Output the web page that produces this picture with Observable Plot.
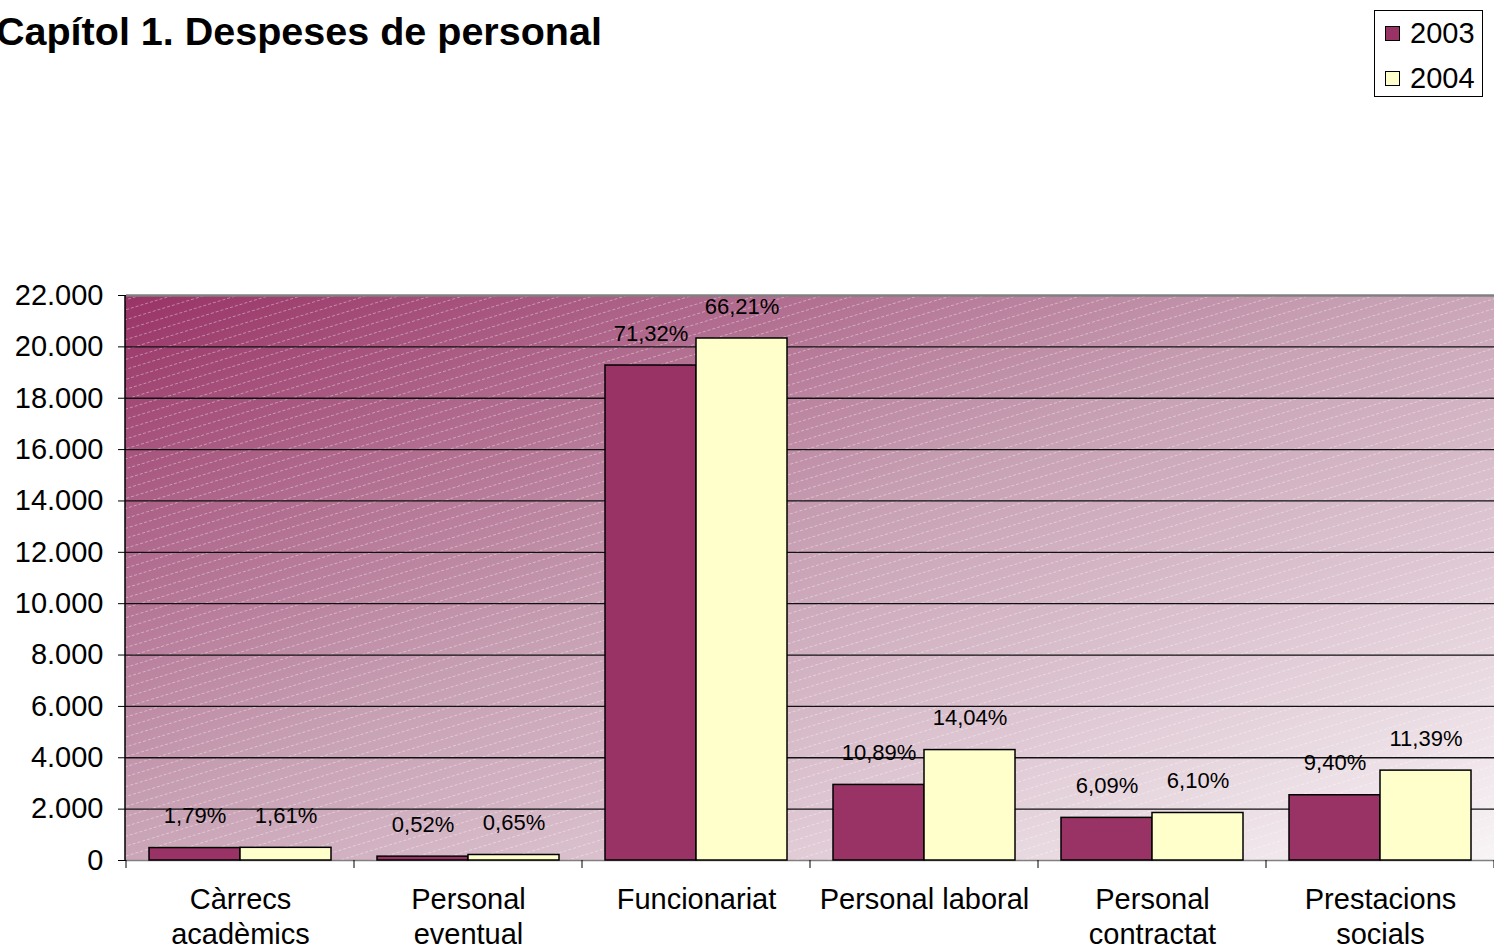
<!DOCTYPE html>
<html>
<head>
<meta charset="utf-8">
<script src="https://cdn.jsdelivr.net/npm/d3@7"></script>
<script src="https://cdn.jsdelivr.net/npm/@observablehq/plot@0.6"></script>
<style>
  html, body { margin: 0; padding: 0; background: #fff; overflow: hidden; }
  #wrap { position: relative; width: 1494px; height: 952px; font-family: "Liberation Sans", Arial, sans-serif; }
  #title { position: absolute; left: -4px; top: 12px; font-weight: bold; font-size: 39.5px; line-height: 39.5px; white-space: nowrap; color: #000; }
  #legend { position: absolute; left: 1374px; top: 10px; width: 107px; height: 85px; border: 1px solid #000; background: #fff; }
  .item { position: absolute; left: 10px; height: 30px; display: flex; align-items: center; font-size: 29px; color: #000; }
  .sw { width: 13px; height: 13px; border: 1.5px solid #000; margin-right: 10px; }
  #chart { position: absolute; left: 0; top: 0; }
</style>
</head>
<body>
<div id="wrap">
  <div id="chart"></div>
  <div id="title">Capítol 1. Despeses de personal</div>
  <div id="legend"></div>
</div>
<script>
const categories = ["Càrrecs\nacadèmics", "Personal\neventual", "Funcionariat", "Personal laboral", "Personal\ncontractat", "Prestacions\nsocials"];
const years = ["2003", "2004"];
const values2003 = [484, 150, 19274, 2943, 1660, 2540];
const values2004 = [494, 215, 20326, 4300, 1850, 3500];
const pct2003 = ["1,79%", "0,52%", "71,32%", "10,89%", "6,09%", "9,40%"];
const pct2004 = ["1,61%", "0,65%", "66,21%", "14,04%", "6,10%", "11,39%"];
const yTicks = [0, 2000, 4000, 6000, 8000, 10000, 12000, 14000, 16000, 18000, 20000, 22000];
const yColors = ["#993366", "#FFFFCC"];

const W = 1494, H = 952, ML = 125, MR = 0, MT = 295, MB = 92;

const data = [];
categories.forEach((c, i) => {
  data.push({category: c, year: years[0], value: values2003[i], pct: pct2003[i]});
  data.push({category: c, year: years[1], value: values2004[i], pct: pct2004[i]});
});

const fmt = d3.formatLocale({decimal: ",", thousands: ".", grouping: [3], currency: ["", "€"]}).format(",.0f");

const chart = Plot.plot({
  width: W, height: H,
  marginLeft: ML, marginRight: MR, marginTop: MT, marginBottom: MB,
  style: {fontFamily: "'Liberation Sans', Arial, sans-serif", fontSize: "29px", color: "#000", background: "transparent", overflow: "visible"},
  fx: {domain: categories, padding: 0, label: null},
  x: {domain: years, paddingInner: 0, paddingOuter: 0.24, axis: null},
  y: {domain: [0, 22000], ticks: yTicks, tickFormat: fmt, tickSize: 8, tickPadding: 15, label: null},
  color: {domain: years, range: yColors},
  marks: [
    Plot.ruleY(yTicks.filter(v => v > 0 && v < 22000), {stroke: "#111", strokeWidth: 1.3}),
    Plot.ruleY([22000], {stroke: "#808080", strokeWidth: 2.5}),
    Plot.ruleY([0], {stroke: "#808080", strokeWidth: 1.5}),
    Plot.barY(data, {fx: "category", x: "year", y: "value", fill: "year", stroke: "#000", strokeWidth: 1.5}),
    Plot.text(data, {fx: "category", x: "year", y: "value", text: "pct", dy: -32, fontSize: 22, fill: "#000"}),
    Plot.axisFx({anchor: "bottom", tickSize: 0, tickPadding: 23, lineHeight: 1.22, fontSize: 29, label: null})
  ]
});

const svg = d3.select(chart);
const fxs = chart.scale("fx");
const ys = chart.scale("y");
const xr = fxs.range;
const yr = ys.range;
const pLeft = Math.min(xr[0], xr[1]), pRight = Math.max(xr[0], xr[1]);
const pTop = Math.min(yr[0], yr[1]), pBottom = Math.max(yr[0], yr[1]);

// gradient (corner to corner, stretched over the plot area) and hatch
const defs = svg.insert("defs", ":first-child");
const grad = defs.append("linearGradient").attr("id", "bgGrad")
  .attr("x1", 0).attr("y1", 0).attr("x2", 1).attr("y2", 1);
grad.append("stop").attr("offset", 0).attr("stop-color", "#993366");
grad.append("stop").attr("offset", 0.45).attr("stop-color", "#c69eb2");
grad.append("stop").attr("offset", 1).attr("stop-color", "#f8f4f6");
const pat = defs.append("pattern").attr("id", "hatch")
  .attr("patternUnits", "userSpaceOnUse").attr("width", 10).attr("height", 9.5)
  .attr("patternTransform", "rotate(-17)");
pat.append("line").attr("x1", 0).attr("y1", 0.5).attr("x2", 10).attr("y2", 0.5)
  .attr("stroke", "#fff").attr("stroke-opacity", 0.38).attr("stroke-width", 1)
  .attr("stroke-dasharray", "3,2");

// background behind all marks
const bgNode = document.createElementNS("http://www.w3.org/2000/svg", "g");
chart.insertBefore(bgNode, defs.node().nextSibling);
const bgG = d3.select(bgNode);
bgG.append("rect").attr("x", pLeft).attr("y", pTop).attr("width", pRight - pLeft).attr("height", pBottom - pTop).attr("fill", "url(#bgGrad)");
bgG.append("rect").attr("x", pLeft).attr("y", pTop).attr("width", pRight - pLeft).attr("height", pBottom - pTop).attr("fill", "url(#hatch)");

// y axis line
svg.append("line").attr("x1", pLeft).attr("x2", pLeft).attr("y1", pTop).attr("y2", pBottom)
  .attr("stroke", "#000").attr("stroke-width", 1.5);

// category boundary ticks below the baseline, from the fx scale
const y0 = ys.apply(0);
const bounds = categories.map(c => fxs.apply(c)).concat([fxs.apply(categories[categories.length - 1]) + fxs.bandwidth]);
svg.append("g").selectAll("line").data(bounds).join("line")
  .attr("x1", d => d).attr("x2", d => d)
  .attr("y1", y0).attr("y2", y0 + 8)
  .attr("stroke", "#000").attr("stroke-width", 1);

document.getElementById("chart").appendChild(chart);

// legend
const legend = document.getElementById("legend");
years.forEach((yv, i) => {
  const it = document.createElement("div");
  it.className = "item";
  it.style.top = (i === 0 ? 7 : 52) + "px";
  const sw = document.createElement("div");
  sw.className = "sw";
  sw.style.background = yColors[i];
  it.appendChild(sw);
  it.appendChild(document.createTextNode(yv));
  legend.appendChild(it);
});
</script>
</body>
</html>
